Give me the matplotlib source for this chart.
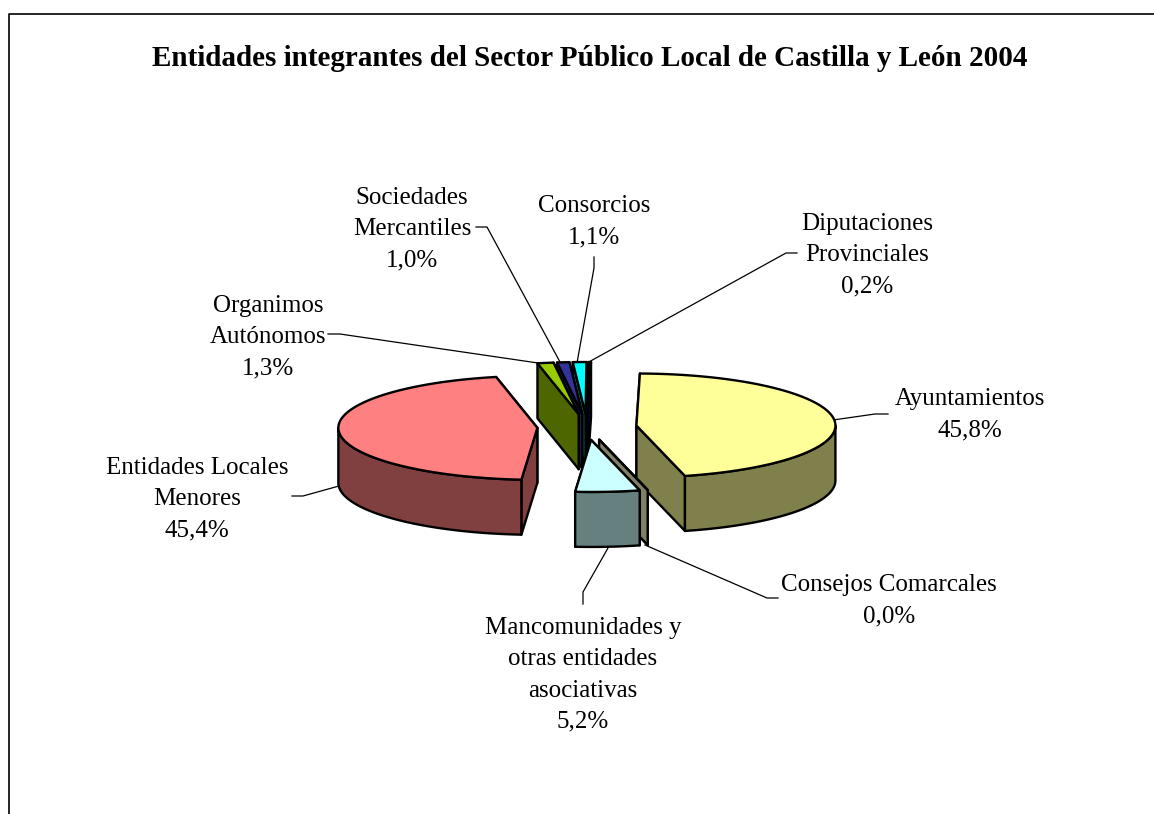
import numpy as np
import matplotlib
matplotlib.use("Agg")
import matplotlib.pyplot as plt
from matplotlib.patches import Polygon

plt.rcParams['font.family'] = ['Liberation Serif', 'DejaVu Serif']

TITLE = "Entidades integrantes del Sector Público Local de Castilla y León 2004"
names = ["Ayuntamientos", "Consejos Comarcales", "Mancomunidades", "Entidades Locales Menores",
         "Organimos Autónomos", "Sociedades Mercantiles", "Consorcios", "Diputaciones Provinciales"]
values = [45.8, 0.0, 5.2, 45.4, 1.3, 1.0, 1.1, 0.2]
top_colors = ["#FFFF99", "#FFFFCC", "#CCFFFF", "#FF8080", "#99CC00", "#333399", "#00FFFF", "#0000A0"]
side_colors = ["#80804D", "#808066", "#668080", "#804040", "#4D6600", "#1A1A4D", "#008080", "#000050"]
draw_order = [3, 7, 6, 5, 4, 0, 1, 2]

label_texts = [
    "Ayuntamientos\n45,8%", "Consejos Comarcales\n0,0%",
    "Mancomunidades y\notras entidades\nasociativas\n5,2%",
    "Entidades Locales\nMenores\n45,4%", "Organimos\nAutónomos\n1,3%",
    "Sociedades\nMercantiles\n1,0%", "Consorcios\n1,1%", "Diputaciones\nProvinciales\n0,2%",
]
label_pos = [(970, 415), (889, 600.5), (583, 675), (197, 499), (268, 337), (412, 229), (594, 222), (867, 255)]
leaders = [
    [(833, 420), (875, 414), (888, 414)],
    [(645, 545), (767, 598), (778, 598)],
    [(608, 548), (583, 592), (583, 604)],
    [(339, 486), (303, 496), (292, 496)],
    [(538, 363), (340, 334), (328, 334)],
    [(560, 362), (487, 227), (476, 227)],
    [(577, 363), (594, 268), (594, 257)],
    [(587, 363), (786, 253), (797, 253)],
]

CX, CY, RX, RY, DEPTH, EXPL, START = 587, 427, 199, 52, 55, 0.25, 1.0
LW = 1.7

fig = plt.figure(figsize=(11.54, 8.14), dpi=100)
ax = fig.add_axes([0, 0, 1, 1])
ax.set_xlim(0, 1154)
ax.set_ylim(814, 0)
ax.axis("off")

# chart frame (bottom is cut off by the image edge)
ax.plot([9, 9, 1154], [814, 13.5, 13.5], color="black", lw=1.2, solid_capstyle="butt", zorder=1)

def pt(apex, deg):
    r = np.radians(deg)
    return apex[0] + RX * np.sin(r), apex[1] - RY * np.cos(r)

cum = np.concatenate([[0], np.cumsum(values)])
total = cum[-1]
z = 2
def add(points, color):
    global z
    ax.add_patch(Polygon(points, closed=True, facecolor=color, edgecolor="black",
                         lw=LW, joinstyle="round", zorder=z))
    z += 1

for i in draw_order:
    a0 = START + cum[i] / total * 360
    a1 = START + cum[i + 1] / total * 360
    mid = np.radians((a0 + a1) / 2)
    apex = (CX + EXPL * RX * np.sin(mid), CY - EXPL * RY * np.cos(mid))
    walls = sorted([a0, a1], key=lambda a: pt(apex, a)[1])
    for a in walls:
        p = pt(apex, a)
        add([apex, p, (p[0], p[1] + DEPTH), (apex[0], apex[1] + DEPTH)], side_colors[i])
    lo, hi = max(a0, 90), min(a1, 270)
    if hi > lo:
        arc = [pt(apex, a) for a in np.linspace(lo, hi, 80)]
        add(arc + [(x, y + DEPTH) for x, y in arc[::-1]], side_colors[i])
    arc = [pt(apex, a) for a in np.linspace(a0, a1, 160)]
    add([apex] + arc, top_colors[i])

for line in leaders:
    xs, ys = zip(*line)
    ax.plot(xs, ys, color="black", lw=0.9, zorder=1.5)

for txt, (x, y) in zip(label_texts, label_pos):
    ax.text(x, y, txt, ha="center", va="center", fontsize=18, linespacing=1.53, color="black", zorder=50)

ax.text(590, 59, TITLE, ha="center", va="center", fontsize=21, fontweight="bold", color="black", zorder=50)

fig.savefig("out.png", dpi=100)
